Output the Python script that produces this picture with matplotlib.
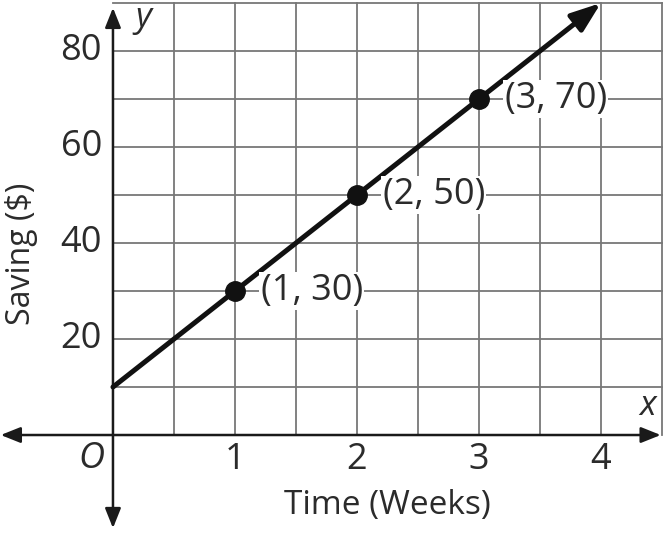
import numpy as np
import matplotlib.pyplot as plt

# data
weeks = [1, 2, 3]
savings = [30, 50, 70]
point_labels = ["(1, 30)", "(2, 50)", "(3, 70)"]
line_x = [0, 4]
line_y = [10, 90]
x_ticks = [1, 2, 3, 4]
y_ticks = [20, 40, 60, 80]

plt.rcParams['font.family'] = ['Open Sans', 'DejaVu Sans']
txt = '#2b2b2b'

fig = plt.figure(figsize=(6.7, 5.35), dpi=100)
ax = fig.add_axes([0, 0, 1, 1])
ax.set_xlim(-0.926, 4.566)
ax.set_ylim(-20.83, 90.625)
ax.axis('off')

# grid, every half week and every 10 dollars
for gx in np.arange(0.5, 4.51, 0.5):
    ax.plot([gx, gx], [0, 90], color='#777777', lw=1.3, zorder=1)
for gy in np.arange(10, 90.1, 10):
    ax.plot([0, 4.5], [gy, gy], color='#777777', lw=1.3, zorder=1)

# axes with arrows at both ends
arr = dict(arrowstyle='<|-|>,head_length=0.5,head_width=0.2', color='#1a1a1a',
           lw=1.8, mutation_scale=24, shrinkA=0, shrinkB=0)
ax.annotate('', xy=(4.49, 0), xytext=(-0.92, 0), arrowprops=arr, zorder=3)
ax.annotate('', xy=(0, 89.0), xytext=(0, -19.4), arrowprops=arr, zorder=3)

# savings line with arrow
ax.annotate('', xy=(line_x[1], line_y[1]), xytext=(line_x[0], line_y[0]),
            arrowprops=dict(arrowstyle='-|>,head_length=0.6,head_width=0.22',
                            color='#111111', lw=3.6, mutation_scale=30,
                            shrinkA=0, shrinkB=0), zorder=4)
ax.plot(weeks, savings, 'o', color='#111111', markersize=14, zorder=5)

for x, y, s in zip(weeks, savings, point_labels):
    ax.text(x + 0.21, y, s, fontsize=26, color=txt, va='center', ha='left',
            bbox=dict(facecolor='white', edgecolor='none', pad=1), zorder=6)

for t in x_ticks:
    ax.text(t, -5.2, str(t), fontsize=26, color=txt, ha='center', va='center')
for t in y_ticks:
    ax.text(-0.09, t, str(t), fontsize=26, color=txt, ha='right', va='center')

ax.text(-0.18, -4.9, 'O', fontsize=26, color=txt, style='italic',
        ha='center', va='center')
ax.text(0.25, 86.8, 'y', fontsize=25, color=txt, style='italic',
        ha='center', va='center')
ax.text(4.38, 6.0, 'x', fontsize=25, color=txt, style='italic',
        ha='center', va='center')

ax.text(2.25, -14.6, 'Time (Weeks)', fontsize=24, color=txt,
        ha='center', va='center')
ax.text(-0.75, 37.7, 'Saving ($)', fontsize=23, color=txt, rotation=90,
        ha='center', va='center')

fig.savefig('out.png', dpi=100)
